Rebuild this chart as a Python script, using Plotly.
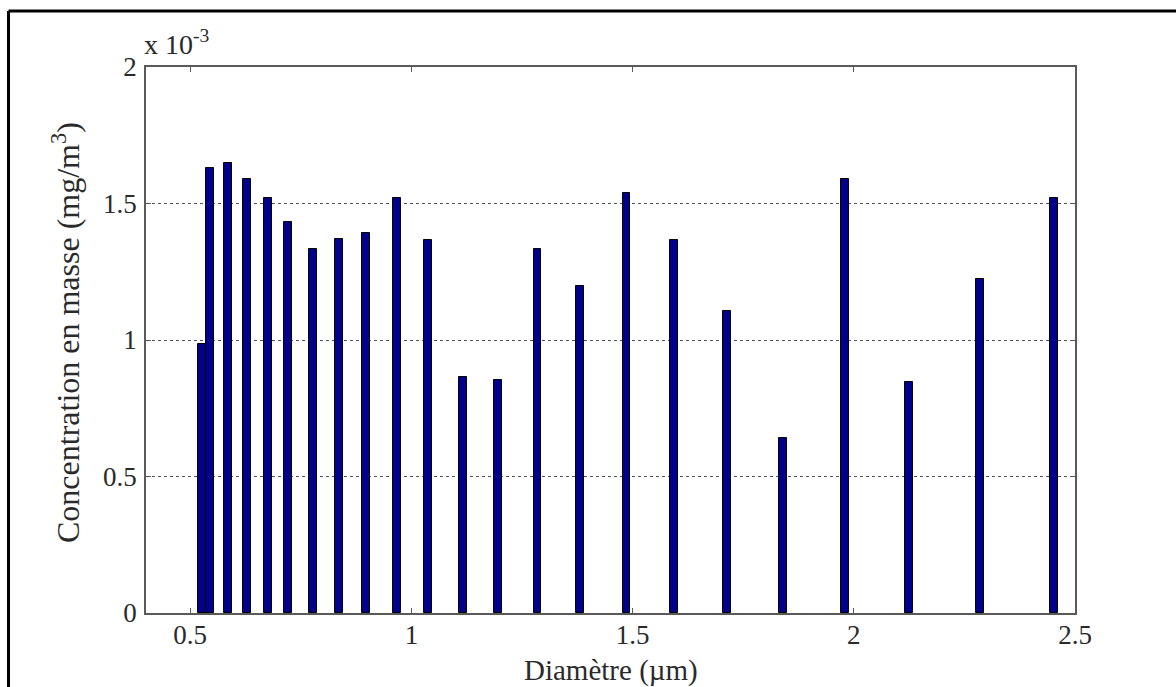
import plotly.graph_objects as go

# Data
diametre_um = [0.527, 0.545, 0.585, 0.628, 0.675, 0.721, 0.778, 0.837, 0.898, 0.968,
               1.038, 1.116, 1.196, 1.285, 1.381, 1.486, 1.593, 1.713, 1.840, 1.980,
               2.125, 2.286, 2.452]
concentration_mg_m3 = [0.986e-3, 1.631e-3, 1.649e-3, 1.589e-3, 1.521e-3, 1.431e-3, 1.334e-3,
                       1.370e-3, 1.391e-3, 1.521e-3, 1.368e-3, 0.866e-3, 0.853e-3, 1.334e-3,
                       1.196e-3, 1.540e-3, 1.367e-3, 1.105e-3, 0.641e-3, 1.589e-3, 0.848e-3,
                       1.224e-3, 1.521e-3]

x_tick_vals = [0.5, 1, 1.5, 2, 2.5]
x_tick_text = ["0.5", "1", "1.5", "2", "2.5"]
y_tick_vals = [0, 0.5e-3, 1e-3, 1.5e-3, 2e-3]
y_tick_text = ["0", "0.5", "1", "1.5", "2"]

W, H = 1176, 687
L, R, T, B = 146, 1075, 67, 613  # plot area pixels
PW, PH = R - L, B - T

def px(x):
    return (x - L) / PW

def py(y):
    return (B - y) / PH

FONT = "Liberation Serif"
TXT = "#2a2a2a"
AX = "#5a5a5a"

fig = go.Figure()
fig.add_trace(go.Bar(
    x=diametre_um,
    y=concentration_mg_m3,
    width=0.0175,
    marker=dict(color="#00008a", line=dict(color="#000000", width=1)),
    showlegend=False,
))

fig.update_layout(
    width=W, height=H,
    margin=dict(l=L, r=W - R, t=T, b=H - B, pad=0),
    paper_bgcolor="white",
    plot_bgcolor="white",
    font=dict(family=FONT, color=TXT),
    bargap=0,
    xaxis=dict(
        range=[0.4, 2.5],
        tickvals=x_tick_vals, ticktext=x_tick_text,
        ticks="inside", ticklen=5, tickwidth=1, tickcolor=AX,
        showline=True, linecolor=AX, linewidth=1.5, mirror="ticks",
        showgrid=False, zeroline=False,
        tickfont=dict(family=FONT, size=27, color=TXT),
        ticklabelstandoff=-3,
    ),
    yaxis=dict(
        range=[0, 2e-3],
        tickvals=y_tick_vals, ticktext=y_tick_text,
        ticks="inside", ticklen=5, tickwidth=1, tickcolor=AX,
        showline=True, linecolor=AX, linewidth=1.5, mirror="ticks",
        showgrid=True, gridcolor="#555555", griddash="dot", gridwidth=1,
        zeroline=False,
        tickfont=dict(family=FONT, size=27, color=TXT),
        ticklabelstandoff=2,
    ),
    annotations=[
        dict(text="Diamètre (µm)", xref="paper", yref="paper",
             x=0.5, y=py(670), xanchor="center", yanchor="middle",
             showarrow=False, font=dict(family=FONT, size=29, color=TXT)),
        dict(text="Concentration en masse (mg/m<sup>3</sup>)", xref="paper", yref="paper",
             x=px(66), y=py(333), xanchor="center", yanchor="middle", textangle=-90,
             showarrow=False, font=dict(family=FONT, size=32, color=TXT)),
        dict(text="x 10<sup>-3</sup>", xref="paper", yref="paper",
             x=px(142), y=py(43), xanchor="left", yanchor="middle",
             showarrow=False, font=dict(family=FONT, size=28, color=TXT)),
    ],
    shapes=[
        dict(type="line", xref="paper", yref="paper",
             x0=px(8.5), x1=px(1180), y0=py(11), y1=py(11),
             line=dict(color="black", width=3)),
        dict(type="line", xref="paper", yref="paper",
             x0=px(8.5), x1=px(8.5), y0=py(11), y1=py(700),
             line=dict(color="black", width=3)),
    ],
)

fig.write_html(
    "out.html",
    config={"displayModeBar": False},
    post_script="document.body.style.margin='0';document.body.style.overflow='hidden';",
)
